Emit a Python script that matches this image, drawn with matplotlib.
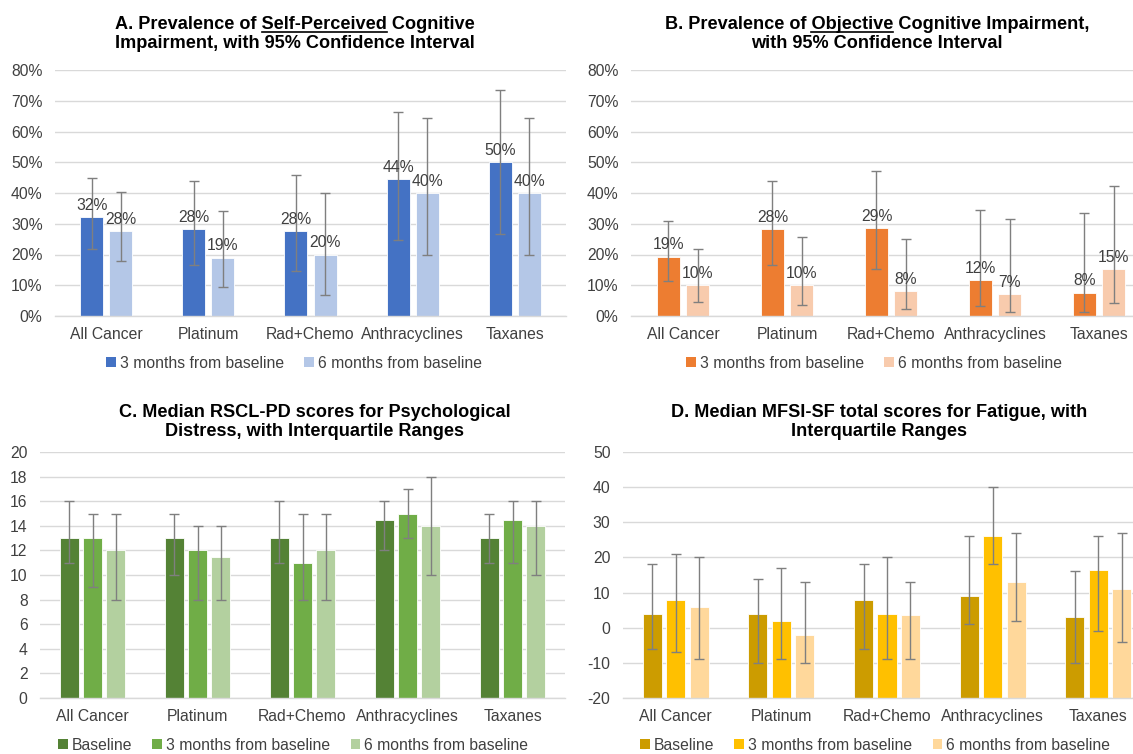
import numpy as np
import matplotlib
matplotlib.use("Agg")
import matplotlib.pyplot as plt
from matplotlib.patches import Patch
from matplotlib.lines import Line2D
from matplotlib.ticker import FuncFormatter, MultipleLocator

plt.rcParams["font.family"] = ["Liberation Sans", "DejaVu Sans"]

# ---------------- data ----------------
categories = ["All Cancer", "Platinum", "Rad+Chemo", "Anthracyclines", "Taxanes"]

# A. self-perceived cognitive impairment (%), with 95% CI
self_3m = [32.3, 28.2, 27.6, 44.4, 50.0]
self_3m_lo = [21.9, 16.6, 14.6, 24.6, 26.8]
self_3m_hi = [44.8, 43.9, 45.9, 66.3, 73.4]
self_6m = [27.6, 19.0, 20.0, 40.0, 40.0]
self_6m_lo = [17.9, 9.3, 6.9, 19.8, 19.8]
self_6m_hi = [40.2, 34.3, 40.0, 64.4, 64.4]

# B. objective cognitive impairment (%), with 95% CI
obj_3m = [19.3, 28.2, 28.6, 11.7, 7.6]
obj_3m_lo = [11.4, 16.6, 15.2, 3.3, 1.3]
obj_3m_hi = [30.9, 43.9, 47.3, 34.5, 33.4]
obj_6m = [10.1, 10.0, 8.0, 7.0, 15.3]
obj_6m_lo = [4.4, 3.5, 2.3, 1.3, 4.3]
obj_6m_hi = [21.8, 25.6, 24.9, 31.4, 42.3]

# C. median RSCL-PD scores, with IQR
rscl_base = [13, 13, 13, 14.5, 13]
rscl_base_lo = [11, 10, 11, 12, 11]
rscl_base_hi = [16, 15, 16, 16, 15]
rscl_3m = [13, 12, 11, 15, 14.5]
rscl_3m_lo = [9, 8, 8, 13, 11]
rscl_3m_hi = [15, 14, 15, 17, 16]
rscl_6m = [12, 11.5, 12, 14, 14]
rscl_6m_lo = [8, 8, 8, 10, 10]
rscl_6m_hi = [15, 14, 15, 18, 16]

# D. median MFSI-SF total scores, with IQR
mfsi_base = [4, 4, 8, 9, 3]
mfsi_base_lo = [-6, -10, -6, 1, -10]
mfsi_base_hi = [18, 14, 18, 26, 16]
mfsi_3m = [8, 2, 4, 26, 16.5]
mfsi_3m_lo = [-7, -9, -9, 18, -1]
mfsi_3m_hi = [21, 17, 20, 40, 26]
mfsi_6m = [6, -2, 3.5, 13, 11]
mfsi_6m_lo = [-9, -10, -9, 2, -4]
mfsi_6m_hi = [20, 13, 13, 27, 27]

two_labels = ["3 months from baseline", "6 months from baseline"]
three_labels = ["Baseline", "3 months from baseline", "6 months from baseline"]

# ---------------- styling ----------------
W, H = 1133, 754
TXT = "#404040"
GRID = "#D9D9D9"
ERR = "#7F7F7F"
FS = 11.3

fig = plt.figure(figsize=(W / 100, H / 100), dpi=100)


def px_axes(x0, x1, ytop, ybot):
    return fig.add_axes([x0 / W, 1 - ybot / H, (x1 - x0) / W, (ybot - ytop) / H])


def style_axes(ax, ymin, ymax, step, pct=False):
    ax.set_ylim(ymin, ymax)
    ax.set_xlim(-0.5, len(categories) - 0.5)
    ax.yaxis.set_major_locator(MultipleLocator(step))
    if pct:
        ax.yaxis.set_major_formatter(FuncFormatter(lambda v, p: f"{v:.0f}%"))
    else:
        ax.yaxis.set_major_formatter(FuncFormatter(lambda v, p: f"{v:.0f}"))
    ax.grid(axis="y", color=GRID, lw=1)
    ax.set_axisbelow(True)
    for s in ["top", "right", "left"]:
        ax.spines[s].set_visible(False)
    ax.spines["bottom"].set_color(GRID)
    ax.spines["bottom"].set_linewidth(1)
    ax.tick_params(axis="both", length=0, labelsize=FS, colors=TXT)
    ax.tick_params(axis="y", pad=9)
    ax.tick_params(axis="x", pad=8)
    ax.set_xticks(np.arange(len(categories)))
    ax.set_xticklabels(categories)


def draw_series(ax, series, colors, offsets, width, base=0, labels=False):
    x = np.arange(len(categories))
    for (vals, lo, hi), col, off in zip(series, colors, offsets):
        v = np.asarray(vals, float)
        ax.bar(x + off, v - base, bottom=base, width=width, color=col,
               edgecolor="white", linewidth=0.6, zorder=2)
        ax.errorbar(x + off, v, yerr=[v - np.asarray(lo), np.asarray(hi) - v],
                    fmt="none", ecolor=ERR, elinewidth=1.0, capsize=3.5,
                    capthick=1.0, zorder=3)
        if labels:
            for xi, vi in zip(x + off, v):
                ax.annotate(f"{vi:.0f}%", (xi, vi), xytext=(0, 3),
                            textcoords="offset points", ha="center",
                            va="bottom", fontsize=FS, color=TXT, zorder=4)


def legend(labels, colors, cx, cy):
    handles = [Patch(facecolor=c, edgecolor="none") for c in colors]
    fig.legend(handles, labels, loc="center", bbox_to_anchor=(cx / W, 1 - cy / H),
               ncol=len(labels), frameon=False, fontsize=FS,
               handlelength=0.62, handleheight=0.62, handletextpad=0.25,
               columnspacing=1.3, labelcolor=TXT, borderaxespad=0, borderpad=0)


def title(cx, base1, line1, line2, under=None, size=13.1, gap=19):
    r = fig.canvas.get_renderer()
    fig.text(cx / W, 1 - base1 / H, line1, ha="center", va="baseline",
             fontsize=size, fontweight="bold", color="black")
    fig.text(cx / W, 1 - (base1 + gap) / H, line2, ha="center", va="baseline",
             fontsize=size, fontweight="bold", color="black")
    if under:
        def width(s):
            t = fig.text(0, 0, s, fontsize=size, fontweight="bold")
            w = t.get_window_extent(renderer=r).width
            t.remove()
            return w
        full = width(line1)
        i = line1.index(under) + len(under)
        end_w = width(line1[:i])
        word_w = width(under)
        left = cx - full / 2
        x_start = left + end_w - word_w
        x_end = left + end_w
        yl = H - (base1 + 2.5)
        fig.add_artist(Line2D([x_start / W, x_end / W], [yl / H, yl / H],
                              transform=fig.transFigure, color="black", lw=1.2))


# ---------------- panel A ----------------
axA = px_axes(55, 566, 70, 316)
style_axes(axA, 0, 80, 10, pct=True)
cA = ["#4472C4", "#B4C7E7"]
draw_series(axA, [(self_3m, self_3m_lo, self_3m_hi), (self_6m, self_6m_lo, self_6m_hi)],
            cA, [-0.142, 0.142], 0.225, labels=True)
legend(two_labels, cA, 294, 363)
title(295, 29, "A. Prevalence of Self-Perceived Cognitive",
      "Impairment, with 95% Confidence Interval", under="Self-Perceived")

# ---------------- panel B ----------------
axB = px_axes(631, 1151, 70, 316)
style_axes(axB, 0, 80, 10, pct=True)
cB = ["#ED7D31", "#F8CBAD"]
draw_series(axB, [(obj_3m, obj_3m_lo, obj_3m_hi), (obj_6m, obj_6m_lo, obj_6m_hi)],
            cB, [-0.14, 0.14], 0.225, labels=True)
legend(two_labels, cB, 874, 363)
title(877, 29, "B. Prevalence of Objective Cognitive Impairment,",
      "with 95% Confidence Interval", under="Objective")

# ---------------- panel C ----------------
axC = px_axes(40, 565, 452, 698)
style_axes(axC, 0, 20, 2)
cC = ["#548235", "#70AD47", "#B3D09F"]
draw_series(axC, [(rscl_base, rscl_base_lo, rscl_base_hi),
                  (rscl_3m, rscl_3m_lo, rscl_3m_hi),
                  (rscl_6m, rscl_6m_lo, rscl_6m_hi)],
            cC, [-0.223, 0, 0.223], 0.18)
legend(three_labels, cC, 293, 745)
title(315, 417, "C. Median RSCL-PD scores for Psychological",
      "Distress, with Interquartile Ranges")

# ---------------- panel D ----------------
axD = px_axes(623, 1151, 452, 698)
style_axes(axD, -20, 50, 10)
cD = ["#CC9C00", "#FFC000", "#FFD89B"]
draw_series(axD, [(mfsi_base, mfsi_base_lo, mfsi_base_hi),
                  (mfsi_3m, mfsi_3m_lo, mfsi_3m_hi),
                  (mfsi_6m, mfsi_6m_lo, mfsi_6m_hi)],
            cD, [-0.222, 0, 0.222], 0.18, base=-20)
legend(three_labels, cD, 875, 745)
title(879, 417, "D. Median MFSI-SF total scores for Fatigue, with",
      "Interquartile Ranges")

fig.savefig("out.png", dpi=100, facecolor="white")
